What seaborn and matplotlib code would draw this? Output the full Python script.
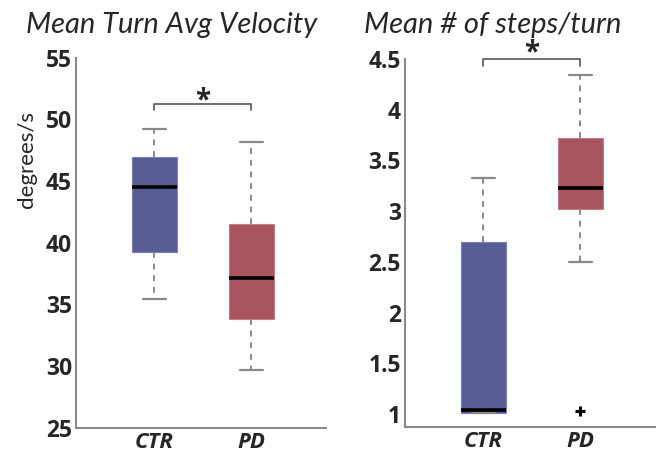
import numpy as np
import pandas as pd
import matplotlib
matplotlib.use("Agg")
import matplotlib.pyplot as plt
import seaborn as sns

groups = ["CTR", "PD"]

# Mean turn average velocity (degrees/s): box-plot summary per group
vel_lo = [35.4, 29.7]
vel_q1 = [39.25, 33.8]
vel_med = [44.5, 37.1]
vel_q3 = [46.95, 41.5]
vel_hi = [49.2, 48.2]
vel_out = [[], []]

# Mean number of steps per turn
stp_lo = [1.01, 2.5]
stp_q1 = [1.01, 3.02]
stp_med = [1.04, 3.23]
stp_q3 = [2.70, 3.72]
stp_hi = [3.33, 4.34]
stp_out = [[], [1.03]]

colors = {"CTR": "#585d97", "PD": "#a7545f"}
edge_colors = {"CTR": "#7a7fb3", "PD": "#c27a84"}


def summary_frame(lo, q1, med, q3, hi, out):
    """Expand five-number summaries into samples with the same quartiles."""
    rows = []
    k = 10
    for g, a, b, c, d, e, o in zip(groups, lo, q1, med, q3, hi, out):
        vals = [a] + [b] * k + [c] * k + [d] * k + [e] + list(o)
        rows += [(g, v) for v in vals]
    return pd.DataFrame(rows, columns=["group", "value"])


vel_df = summary_frame(vel_lo, vel_q1, vel_med, vel_q3, vel_hi, vel_out)
stp_df = summary_frame(stp_lo, stp_q1, stp_med, stp_q3, stp_hi, stp_out)

sns.set_style("white")
plt.rcParams["font.family"] = ["Lato", "DejaVu Sans"]
bold_font = ["Open Sans", "DejaVu Sans"]

fig = plt.figure(figsize=(6.62, 4.62), dpi=100)
ax1 = fig.add_axes([0.1148, 0.0742, 0.3776, 0.8011])
ax2 = fig.add_axes([0.6118, 0.0751, 0.3776, 0.7972])

gray = "#8a8a8a"
ink = "#262626"


def draw(ax, df):
    sns.boxplot(
        data=df, x="group", y="value", hue="group", order=groups,
        palette=colors, legend=False, width=0.465, ax=ax, whis=1.5,
        linewidth=1.0,
        whiskerprops=dict(linestyle=(0, (3, 3)), color=gray, linewidth=1.4),
        capprops=dict(color=gray, linewidth=1.6),
        medianprops=dict(color="black", linewidth=2.6),
        flierprops=dict(marker="+", markersize=7, markeredgewidth=2.2,
                        markeredgecolor="black"),
    )
    for patch, g in zip(ax.patches, groups):
        patch.set_facecolor(colors[g])
        patch.set_edgecolor(edge_colors[g])
        patch.set_linewidth(0.8)
    # shorter caps
    for line in ax.lines:
        xd = np.asarray(line.get_xdata(), dtype=float)
        yd = np.asarray(line.get_ydata(), dtype=float)
        if len(xd) == 2 and yd[0] == yd[1] and line.get_color() == gray:
            cx = xd.mean()
            line.set_xdata([cx - 0.115, cx + 0.115])
    ax.set_xlim(-0.81, 1.77)
    ax.set_xlabel("")
    ax.set_ylabel("")
    for s in ["top", "right"]:
        ax.spines[s].set_visible(False)
    for s in ["left", "bottom"]:
        ax.spines[s].set_color(gray)
        ax.spines[s].set_linewidth(1.5)
    ax.tick_params(axis="both", direction="in", length=4, width=0.8,
                   color="#bbbbbb", pad=3)
    ax.set_xticks([0, 1])
    ax.set_xticklabels(groups, fontweight="bold", fontstyle="italic",
                       fontsize=16, color=ink, family=bold_font)


draw(ax1, vel_df)
draw(ax2, stp_df)

ax1.set_ylim(25, 55)
ax1.set_yticks([25, 30, 35, 40, 45, 50, 55])
ax1.set_yticklabels(["25", "30", "35", "40", "45", "50", "55"],
                    fontweight="bold", fontsize=16.5, color=ink,
                    family=bold_font)
ax2.set_ylim(0.87, 4.5)
ax2.set_yticks([1, 1.5, 2, 2.5, 3, 3.5, 4, 4.5])
ax2.set_yticklabels(["1", "1.5", "2", "2.5", "3", "3.5", "4", "4.5"],
                    fontweight="bold", fontsize=16.5, color=ink,
                    family=bold_font)

# significance brackets
ax1.plot([0, 0, 1, 1], [50.75, 51.2, 51.2, 50.75], color="#555555",
         lw=1.2, clip_on=False)
ax1.text(0.5, 51.5, "*", ha="center", va="center", fontsize=20,
         fontweight="bold", color=ink, family=bold_font)
ax2.plot([0, 0, 1, 1], [4.43, 4.5, 4.5, 4.43], color="#555555",
         lw=1.2, clip_on=False)
ax2.text(0.5, 4.555, "*", ha="center", va="center", fontsize=20,
         fontweight="bold", color=ink, clip_on=False, family=bold_font)

fig.text(0.259, 0.9286, "Mean Turn Avg Velocity", ha="center",
         va="baseline", fontsize=21, fontstyle="italic", color=ink)
fig.text(0.744, 0.9286, "Mean # of steps/turn", ha="center",
         va="baseline", fontsize=21, fontstyle="italic", color=ink)
fig.text(0.041, 0.654, "degrees/s", rotation=90, ha="center", va="center",
         fontsize=16, color=ink)

fig.savefig("out.png", dpi=100)
